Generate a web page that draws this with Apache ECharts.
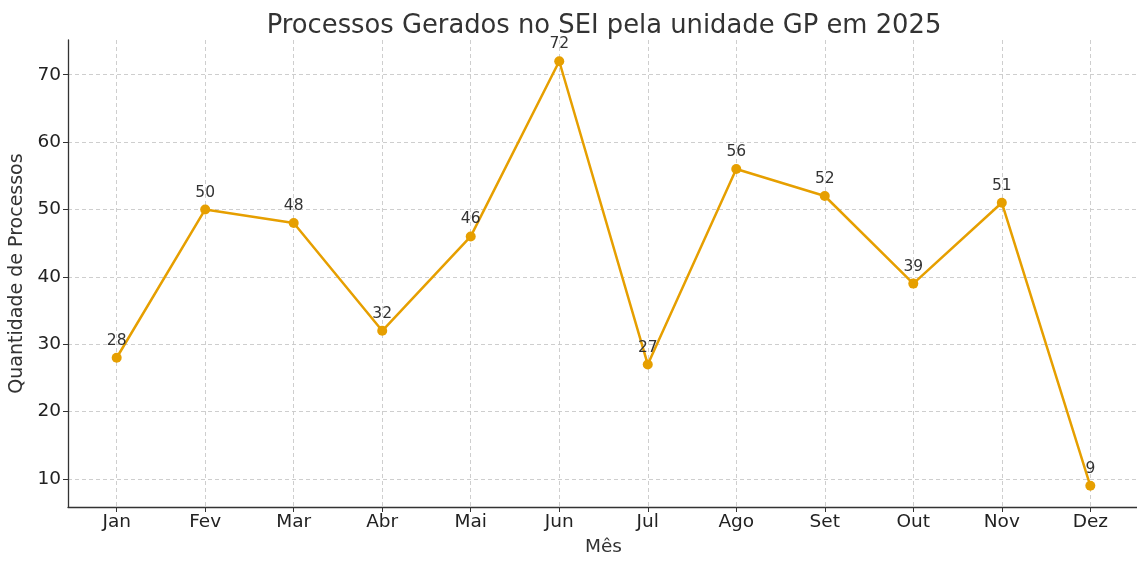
<!DOCTYPE html>
<html><head><meta charset="utf-8">
<script src="https://cdn.jsdelivr.net/npm/echarts@6/dist/echarts.min.js"></script>
<style>html,body{margin:0;padding:0;background:#fff}#c{width:1137px;height:561px}</style>
</head><body><div id="c"></div>
<script>
const months = ['Jan','Fev','Mar','Abr','Mai','Jun','Jul','Ago','Set','Out','Nov','Dez'];
const processos = [28,50,48,32,46,72,27,56,52,39,51,9];
const yTicks = [10,20,30,40,50,60,70];

const chart = echarts.init(document.getElementById('c'), null, {renderer:'canvas'});
const F = 'DejaVu Sans';
chart.setOption({
  animation:false,
  backgroundColor:'#fff',
  title:{text:'Processos Gerados no SEI pela unidade GP em 2025',left:599,top:8,textAlign:'center',
    textStyle:{fontFamily:F,fontSize:25.8,fontWeight:'normal',color:'#333'}},
  grid:{left:68,top:40,width:1071,height:467,containLabel:false,outerBoundsMode:'none'},
  xAxis:{type:'value',min:-0.55,max:11.55,interval:1,
    name:'Mês',nameLocation:'middle',nameGap:31,
    nameTextStyle:{fontFamily:F,fontSize:18.5,color:'#333'},
    axisLine:{show:true,onZero:false,lineStyle:{color:'#333',width:1.3}},
    axisTick:{show:true,length:5,lineStyle:{color:'#333',width:1}, customValues:months.map((m,i)=>i)},
    axisLabel:{fontFamily:F,fontSize:18.5,color:'#222',margin:6,customValues:months.map((m,i)=>i),
      formatter:v=>months[Math.round(v)]},
    splitLine:{show:true,lineStyle:{color:'#c8c8c8',type:[4,3],width:0.9}},
  },
  yAxis:{type:'value',min:5.85,max:75.15,
    name:'Quantidade de Processos',nameLocation:'middle',nameGap:37,
    nameTextStyle:{fontFamily:F,fontSize:19,color:'#333'},
    axisLine:{show:true,onZero:false,lineStyle:{color:'#333',width:1.3}},
    axisTick:{show:true,length:5,lineStyle:{color:'#333',width:1},customValues:yTicks},
    axisLabel:{fontFamily:F,fontSize:18.5,color:'#222',margin:7,customValues:yTicks},
    splitLine:{show:true,lineStyle:{color:'#c8c8c8',type:[4,3],width:0.9}},
  },
  series:[{type:'line',data:processos.map((v,i)=>[i,v]),
    color:'#E69F00',lineStyle:{width:2.5,color:'#E69F00'},
    symbol:'circle',symbolSize:10,itemStyle:{color:'#E69F00'},
    label:{show:true,position:'top',distance:4,fontFamily:F,fontSize:15.5,color:'#333',
      formatter:p=>p.value[1]}
  }]
});
</script></body></html>
